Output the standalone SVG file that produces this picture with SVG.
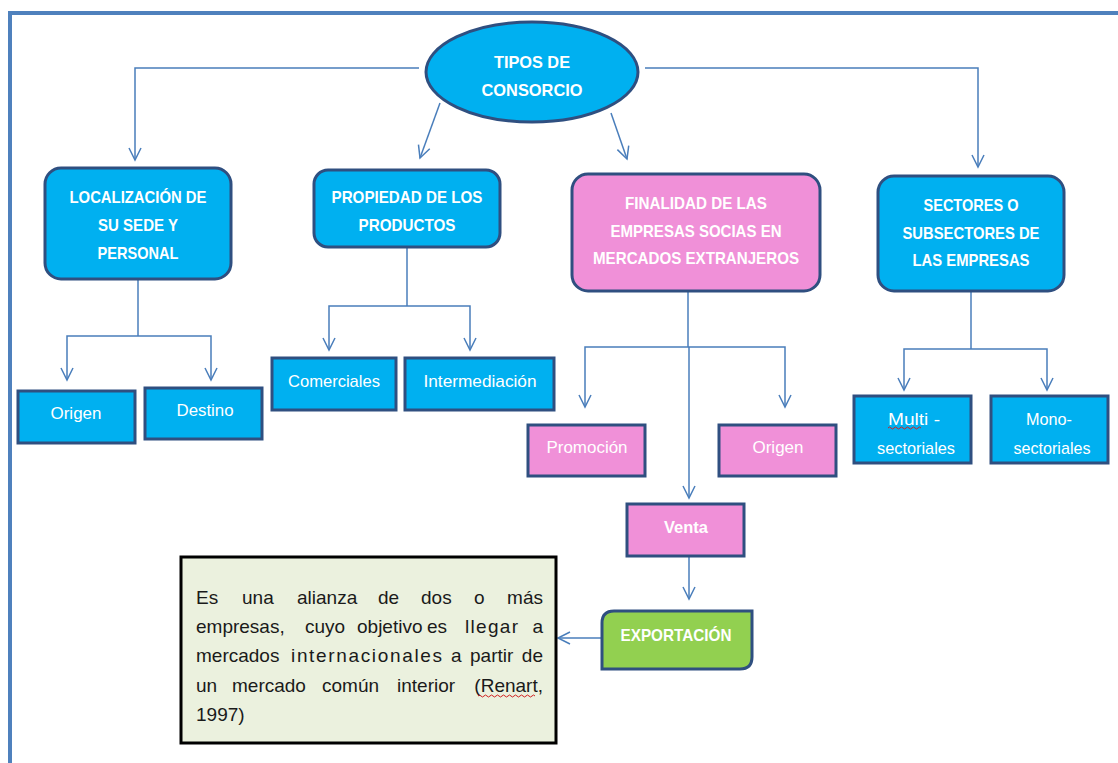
<svg xmlns="http://www.w3.org/2000/svg" width="1118" height="763" viewBox="0 0 1118 763">
<style>
.node{fill:#00B0F0;stroke:#2F4F80;stroke-width:3}
.pink{fill:#F090D8;stroke:#2F4F80;stroke-width:3}
.green{fill:#92D050;stroke:#2F4F80;stroke-width:3}
.t{font-family:"Liberation Sans Narrow","Liberation Sans",Arial,sans-serif;font-weight:bold;font-size:17px;fill:#FFFFFF;text-anchor:middle}
.s{font-family:"Liberation Sans",Arial,sans-serif;font-size:17px;fill:#FFFFFF;text-anchor:middle}
.p{font-family:"Liberation Sans",Arial,sans-serif;font-size:19px;fill:#1A1A1A}
.c{fill:none;stroke:#4A7EBB;stroke-width:1.5}
.sq{fill:none;stroke:#D02020;stroke-width:1}
</style>
<defs>
<marker id="arr" markerUnits="userSpaceOnUse" markerWidth="16" markerHeight="16" viewBox="-14 -8 16 16" refX="0" refY="0" orient="auto">
<path d="M-12,-6 L0,0 L-12,6" fill="none" stroke="#4A7EBB" stroke-width="1.5"/>
</marker>
</defs>
<rect width="1118" height="763" fill="#FFFFFF"/>
<path d="M10,763 V13 H1118" fill="none" stroke="#4F81BD" stroke-width="4"/>

<g id="connectors">
<path class="c" d="M419,68 H135 V160" marker-end="url(#arr)"/>
<path class="c" d="M645,68 H978 V167" marker-end="url(#arr)"/>
<path class="c" d="M440,103 L420,158" marker-end="url(#arr)"/>
<path class="c" d="M611,113 L627,159" marker-end="url(#arr)"/>
<path class="c" d="M138,279 V336"/>
<path class="c" d="M138,336 H67 V380" marker-end="url(#arr)"/>
<path class="c" d="M138,336 H211 V380" marker-end="url(#arr)"/>
<path class="c" d="M407,247 V306"/>
<path class="c" d="M407,306 H329 V350" marker-end="url(#arr)"/>
<path class="c" d="M407,306 H470 V350" marker-end="url(#arr)"/>
<path class="c" d="M688,291 V347"/>
<path class="c" d="M688,347 H585 V407" marker-end="url(#arr)"/>
<path class="c" d="M688,347 H785 V407" marker-end="url(#arr)"/>
<path class="c" d="M689,347 V498" marker-end="url(#arr)"/>
<path class="c" d="M971,291 V349"/>
<path class="c" d="M971,349 H904 V390" marker-end="url(#arr)"/>
<path class="c" d="M971,349 H1047 V390" marker-end="url(#arr)"/>
<path class="c" d="M689,556 V599" marker-end="url(#arr)"/>
<path class="c" d="M601,638 H558" marker-end="url(#arr)"/>
</g>

<g id="tipos">
<ellipse class="node" cx="532" cy="72" rx="106" ry="50"/>
<text class="t" x="532" y="68" textLength="76" lengthAdjust="spacingAndGlyphs">TIPOS DE</text>
<text class="t" x="532" y="96" textLength="101" lengthAdjust="spacingAndGlyphs">CONSORCIO</text>
</g>

<g id="localizacion">
<rect class="node" x="45" y="168" width="186" height="111" rx="16"/>
<text class="t" x="138" y="203" textLength="137" lengthAdjust="spacingAndGlyphs">LOCALIZACIÓN DE</text>
<text class="t" x="138" y="231" textLength="80" lengthAdjust="spacingAndGlyphs">SU SEDE Y</text>
<text class="t" x="138" y="259" textLength="81" lengthAdjust="spacingAndGlyphs">PERSONAL</text>
</g>

<g id="propiedad">
<rect class="node" x="314" y="170" width="186" height="77" rx="14"/>
<text class="t" x="407" y="203" textLength="151" lengthAdjust="spacingAndGlyphs">PROPIEDAD DE LOS</text>
<text class="t" x="407" y="231" textLength="97" lengthAdjust="spacingAndGlyphs">PRODUCTOS</text>
</g>

<g id="finalidad">
<rect class="pink" x="572" y="174" width="248" height="117" rx="16"/>
<text class="t" x="696" y="209" textLength="142" lengthAdjust="spacingAndGlyphs">FINALIDAD DE LAS</text>
<text class="t" x="696" y="237" textLength="171" lengthAdjust="spacingAndGlyphs">EMPRESAS SOCIAS EN</text>
<text class="t" x="696" y="264" textLength="206" lengthAdjust="spacingAndGlyphs">MERCADOS EXTRANJEROS</text>
</g>

<g id="sectores">
<rect class="node" x="878" y="176" width="186" height="115" rx="16"/>
<text class="t" x="971" y="211" textLength="95" lengthAdjust="spacingAndGlyphs">SECTORES O</text>
<text class="t" x="971" y="239" textLength="137" lengthAdjust="spacingAndGlyphs">SUBSECTORES DE</text>
<text class="t" x="971" y="266" textLength="117" lengthAdjust="spacingAndGlyphs">LAS EMPRESAS</text>
</g>

<g id="origen1">
<rect class="node" x="18" y="391" width="117" height="52"/>
<text class="s" x="76" y="419" textLength="51" lengthAdjust="spacingAndGlyphs">Origen</text>
</g>
<g id="destino">
<rect class="node" x="145" y="388" width="117" height="51"/>
<text class="s" x="205" y="416" textLength="57" lengthAdjust="spacingAndGlyphs">Destino</text>
</g>
<g id="comerciales">
<rect class="node" x="272" y="358" width="124" height="52"/>
<text class="s" x="334" y="387" textLength="92" lengthAdjust="spacingAndGlyphs">Comerciales</text>
</g>
<g id="intermediacion">
<rect class="node" x="405" y="358" width="149" height="52"/>
<text class="s" x="480" y="387" textLength="113" lengthAdjust="spacingAndGlyphs">Intermediación</text>
</g>

<g id="promocion">
<rect class="pink" x="528" y="425" width="117" height="51"/>
<text class="s" x="587" y="453" textLength="81" lengthAdjust="spacingAndGlyphs">Promoción</text>
</g>
<g id="origen2">
<rect class="pink" x="719" y="425" width="117" height="51"/>
<text class="s" x="778" y="453" textLength="51" lengthAdjust="spacingAndGlyphs">Origen</text>
</g>

<g id="multi">
<rect class="node" x="854" y="396" width="117" height="67"/>
<text class="s" x="914" y="425" textLength="52" lengthAdjust="spacingAndGlyphs">Multi -</text>
<text class="s" x="916" y="454" textLength="78" lengthAdjust="spacingAndGlyphs">sectoriales</text>
<path class="sq" d="M888,428 q1.5,-2 3,0 t3,0 t3,0 t3,0 t3,0 t3,0 t3,0 t3,0 t3,0 t3,0 t3,0"/>
</g>
<g id="mono">
<rect class="node" x="991" y="396" width="117" height="67"/>
<text class="s" x="1049" y="425" textLength="46" lengthAdjust="spacingAndGlyphs">Mono-</text>
<text class="s" x="1052" y="454" textLength="77" lengthAdjust="spacingAndGlyphs">sectoriales</text>
</g>

<g id="venta">
<rect class="pink" x="627" y="504" width="117" height="52"/>
<text class="t" x="686" y="533" textLength="44" lengthAdjust="spacingAndGlyphs">Venta</text>
</g>

<g id="exportacion">
<path class="green" d="M614,611 H752 V657 Q752,669 740,669 H602 V623 Q602,611 614,611 Z"/>
<text class="t" x="676" y="641" textLength="111" lengthAdjust="spacingAndGlyphs">EXPORTACIÓN</text>
</g>

<g id="definicion">
<rect x="181" y="557" width="375" height="186" fill="#EBF1DE" stroke="#000000" stroke-width="3"/>
<g class="p">
<text x="196" y="604">Es</text>
<text x="242" y="604">una</text>
<text x="297" y="604">alianza</text>
<text x="378" y="604">de</text>
<text x="421" y="604">dos</text>
<text x="474" y="604">o</text>
<text x="543" y="604" text-anchor="end">más</text>
<text x="196" y="633">empresas,</text>
<text x="305" y="633">cuyo</text>
<text x="357" y="633">objetivo</text>
<text x="427" y="633">es</text>
<text x="465" y="633" textLength="53" lengthAdjust="spacing">llegar</text>
<text x="543" y="633" text-anchor="end">a</text>
<text x="196" y="662">mercados</text>
<text x="291" y="662" textLength="151" lengthAdjust="spacing">internacionales</text>
<text x="451" y="662">a</text>
<text x="470" y="662">partir</text>
<text x="543" y="662" text-anchor="end">de</text>
<text x="196" y="692">un</text>
<text x="232" y="692">mercado</text>
<text x="322" y="692">común</text>
<text x="397" y="692">interior</text>
<text x="543" y="692" text-anchor="end">(Renart,</text>
<text x="196" y="721">1997)</text>
</g>
<path class="sq" d="M478,696 q1.5,-2 3,0 t3,0 t3,0 t3,0 t3,0 t3,0 t3,0 t3,0 t3,0 t3,0 t3,0 t3,0 t3,0 t3,0 t3,0 t3,0 t3,0 t3,0 t3,0"/>
</g>
</svg>
